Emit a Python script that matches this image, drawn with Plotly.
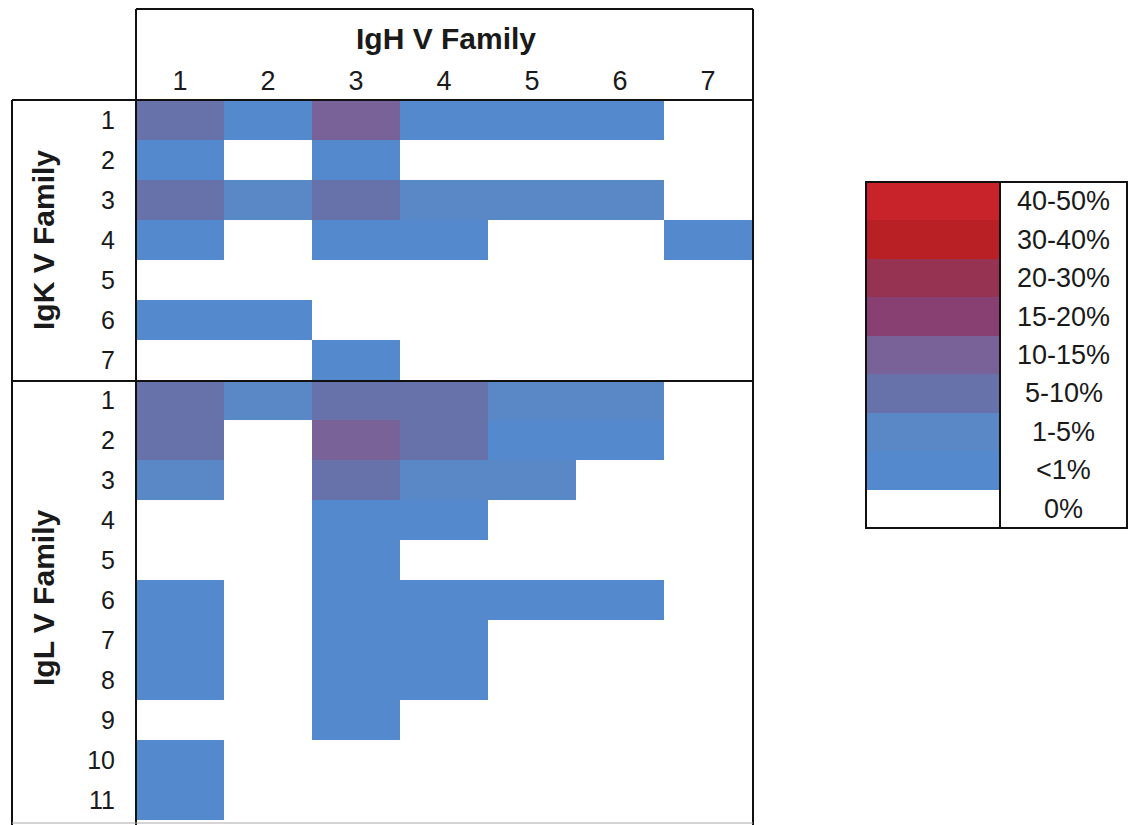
import plotly.graph_objects as go

W, H = 1136, 825
OFF = 8  # page body margin added around the plot

# ---------------- data ----------------
igh_families = ["1", "2", "3", "4", "5", "6", "7"]
igk_families = ["1", "2", "3", "4", "5", "6", "7"]
igl_families = ["1", "2", "3", "4", "5", "6", "7", "8", "9", "10", "11"]

bin_labels = ["0%", "<1%", "1-5%", "5-10%", "10-15%", "15-20%", "20-30%", "30-40%", "40-50%"]
bin_colors = ["#ffffff", "#5589cd", "#5a88c6", "#6772aa", "#786298",
              "#884073", "#963252", "#b92026", "#c8222a"]

# bin index (into bin_labels) for each IgK / IgL row x IgH column
igk_bins = [
    [3, 1, 4, 1, 1, 1, 0],
    [1, 0, 1, 0, 0, 0, 0],
    [3, 2, 3, 2, 2, 2, 0],
    [1, 0, 1, 1, 0, 0, 1],
    [0, 0, 0, 0, 0, 0, 0],
    [1, 1, 0, 0, 0, 0, 0],
    [0, 0, 1, 0, 0, 0, 0],
]
igl_bins = [
    [3, 2, 3, 3, 2, 2, 0],
    [3, 0, 4, 3, 1, 1, 0],
    [2, 0, 3, 2, 2, 0, 0],
    [0, 0, 1, 1, 0, 0, 0],
    [0, 0, 1, 0, 0, 0, 0],
    [1, 0, 1, 1, 1, 1, 0],
    [1, 0, 1, 1, 0, 0, 0],
    [1, 0, 1, 1, 0, 0, 0],
    [0, 0, 1, 0, 0, 0, 0],
    [1, 0, 0, 0, 0, 0, 0],
    [1, 0, 0, 0, 0, 0, 0],
]

# ---------------- helpers ----------------
def px(x):
    return (x - OFF) / W

def py(y):
    return 1 - (y - OFF) / H

n = len(bin_labels)
colorscale = []
for i, c in enumerate(bin_colors):
    colorscale.append([i / n, c])
    colorscale.append([(i + 1) / n, c])

FONT = "Liberation Sans, Arial, sans-serif"
TXT = "#1a1a1a"

z_main = igk_bins + igl_bins
row_labels = igk_families + igl_families
row_idx = list(range(len(row_labels)))
col_idx = list(range(len(igh_families)))

fig = go.Figure()

fig.add_trace(go.Heatmap(
    z=z_main, x=col_idx, y=row_idx,
    colorscale=colorscale, zmin=-0.5, zmax=n - 0.5,
    showscale=False, hoverinfo="skip",
    xaxis="x", yaxis="y",
))

# legend as a one-column heatmap
legend_order = list(range(n - 1, -1, -1))
fig.add_trace(go.Heatmap(
    z=[[b] for b in legend_order], x=[0], y=list(range(n)),
    colorscale=colorscale, zmin=-0.5, zmax=n - 0.5,
    showscale=False, hoverinfo="skip",
    xaxis="x2", yaxis="y2",
))

# geometry (page pixels)
GX0, GX1 = 136, 752
GY0, GY1 = 100, 820
LX0, LX1, LXT = 866, 1000, 1127
LY0, LY1 = 182, 528

fig.update_layout(
    width=W, height=H,
    margin=dict(l=0, r=0, t=0, b=0),
    paper_bgcolor="white", plot_bgcolor="white",
    font=dict(family=FONT, color=TXT),
    showlegend=False,
    xaxis=dict(
        domain=[px(GX0), px(GX1)], range=[-0.5, len(col_idx) - 0.5],
        side="top", tickmode="array", tickvals=col_idx, ticktext=igh_families,
        tickfont=dict(size=27, family=FONT, color=TXT),
        showgrid=False, zeroline=False, showline=False, ticks="",
        ticklabelstandoff=4, fixedrange=True,
    ),
    yaxis=dict(
        domain=[py(GY1), py(GY0)], range=[len(row_idx) - 0.5, -0.5],
        tickmode="array", tickvals=row_idx, ticktext=row_labels,
        tickfont=dict(size=25, family=FONT, color=TXT),
        showgrid=False, zeroline=False, showline=False, ticks="",
        ticklabelstandoff=20, fixedrange=True,
    ),
    xaxis2=dict(
        domain=[px(LX0), px(LX1)], range=[-0.5, 0.5], anchor="y2",
        showticklabels=False, showgrid=False, zeroline=False, ticks="", fixedrange=True,
    ),
    yaxis2=dict(
        domain=[py(LY1), py(LY0)], range=[n - 0.5, -0.5], anchor="x2",
        showticklabels=False, showgrid=False, zeroline=False, ticks="", fixedrange=True,
    ),
)

annotations = []
# legend labels
for i, b in enumerate(legend_order):
    annotations.append(dict(
        x=px((LX1 + LXT) / 2), xref="paper", y=i, yref="y2",
        text=bin_labels[b], showarrow=False, xanchor="center", yanchor="middle",
        font=dict(size=27, family=FONT, color=TXT),
    ))
# axis titles
annotations.append(dict(
    x=px(446), y=py(38), xref="paper", yref="paper", text="<b>IgH V Family</b>",
    showarrow=False, xanchor="center", yanchor="middle",
    font=dict(size=30, family=FONT, color=TXT),
))
annotations.append(dict(
    x=px(43), y=py(240), xref="paper", yref="paper", text="<b>IgK V Family</b>",
    showarrow=False, xanchor="center", yanchor="middle", textangle=-90,
    font=dict(size=30, family=FONT, color=TXT),
))
annotations.append(dict(
    x=px(43), y=py(598), xref="paper", yref="paper", text="<b>IgL V Family</b>",
    showarrow=False, xanchor="center", yanchor="middle", textangle=-90,
    font=dict(size=30, family=FONT, color=TXT),
))
fig.update_layout(annotations=annotations)

# box lines
def line(x0, y0, x1, y1, color="#111111", width=2):
    return dict(type="line", xref="paper", yref="paper",
                x0=px(x0), y0=py(y0), x1=px(x1), y1=py(y1),
                line=dict(color=color, width=width), layer="above")

shapes = [
    line(GX0, 9, GX1 + 1, 9),
    line(GX0, 9, GX0, 825),
    line(GX1 + 1, 9, GX1 + 1, 825),
    line(12, GY0, GX1 + 1, GY0),
    line(12, 381, GX1 + 1, 381),
    line(12, GY0, 12, 825),
    line(12, 823, GX1 + 1, 823, color="#aaaaaa", width=1),
    # legend box
    dict(type="rect", xref="paper", yref="paper",
         x0=px(LX0), y0=py(LY1), x1=px(LXT), y1=py(LY0),
         line=dict(color="#111111", width=2), layer="above"),
    line(LX1, LY0, LX1, LY1),
]
fig.update_layout(shapes=shapes)

fig.write_html("out.html")
